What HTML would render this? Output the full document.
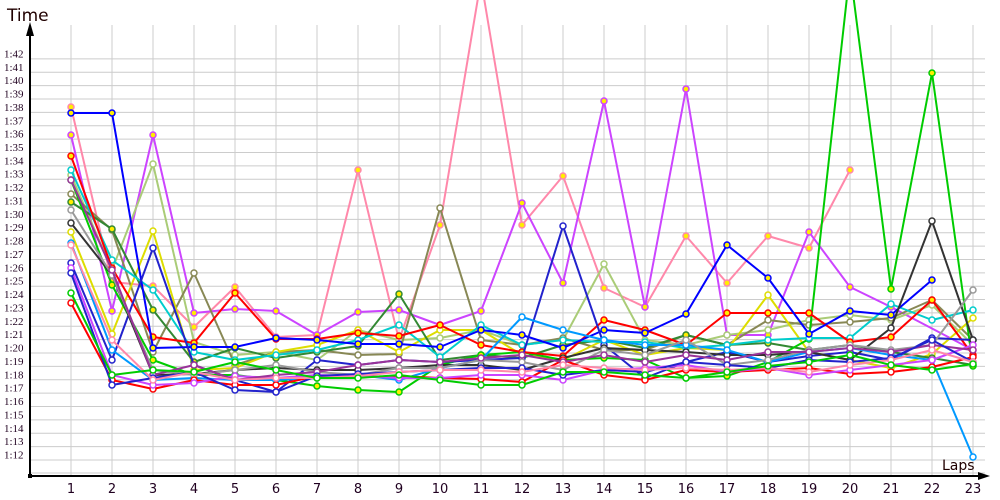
<!DOCTYPE html>
<html><head><meta charset="utf-8"><style>
html,body{margin:0;padding:0;background:#fff;}
svg{display:block;font-family:"Liberation Sans",sans-serif;}
</style></head><body>
<svg id="c" width="1000" height="500" viewBox="0 0 1000 500" xmlns="http://www.w3.org/2000/svg">
<rect width="1000" height="500" fill="#fff"/>
<g stroke="#cccccc" stroke-width="1" id="grid"></g>
<g font-size="11" fill="#200020" font-family="Liberation Serif,serif" id="ylab"></g>
<g font-size="13" fill="#200020" font-family="DejaVu Sans,sans-serif" id="xlab"></g>
<g id="series" fill="none" stroke-width="2" stroke-linejoin="round"></g>
<line x1="30" y1="476" x2="985" y2="476" stroke="#000" stroke-width="2"/>
<line x1="30" y1="476" x2="30" y2="30" stroke="#000" stroke-width="2"/>
<polygon points="30,22 26,36 34,36" fill="#000"/>
<polygon points="990,476 978,472 978,480" fill="#000"/>
<rect x="28" y="474" width="4" height="4" fill="#000"/>
<text x="7" y="21" font-size="17" fill="#200000" font-family="DejaVu Sans,sans-serif">Time</text>
<text x="942" y="470" font-size="14" fill="#200000" font-family="DejaVu Sans,sans-serif">Laps</text>
</svg>
<script>
var NS="http://www.w3.org/2000/svg";
function el(t,a,p){var e=document.createElementNS(NS,t);for(var k in a)e.setAttribute(k,a[k]);p.appendChild(e);return e;}
var g=document.getElementById('grid'),yl=document.getElementById('ylab'),xl=document.getElementById('xlab');
function X(i){return 71+41*(i-1);}
for(var i=1;i<=23;i++){el('line',{x1:X(i),y1:25,x2:X(i),y2:476},g);var t=el('text',{x:X(i),y:493,'text-anchor':'middle'},xl);t.textContent=i;}
for(var s=0;s<=30;s++){var y=460-s*13.37;el('line',{x1:30,y1:y,x2:985,y2:y},g);var t=el('text',{x:4,y:y-1.5},yl);var sec=12+s;t.textContent="1:"+(sec<10?"0"+sec:sec);}
el('line',{x1:30,y1:473,x2:985,y2:473},g);
var S=[
["#ff88aa",1,[107,282,286,327,287,337,335,170,340,225,-20,225,176,288,307,236,283,236,248,170]],
["#cc44ff",1,[135,311,135,313,309,311,335,312,310,325,311,203,283,101,307,89,335,335,232,287,307,null,350]],
["#aacc77",0,[175,270,164,342,355,352,360,330,340,338,330,345,340,264,340,345,335,330,320,315,320,305,345]],
["#888855",0,[194,230,352,273,365,352,350,355,354,208,340,345,338,350,350,335,345,320,325,322,318,300,340]],
["#dddd00",0,[232,334,231,370,368,352,345,330,352,330,330,355,360,340,355,348,350,295,352,360,368,354,318]],
["#338833",1,[202,229,310,362,348,358,352,346,294,360,355,358,345,340,348,335,345,343,350,345,352,358,365]],
["#00cc00",1,[180,285,360,375,375,380,386,390,392,365,355,352,360,358,360,378,376,362,339,-30,289,73,366]],
["#00cccc",0,[170,260,290,352,360,355,350,340,325,357,325,345,340,342,342,348,345,340,338,338,304,320,310]],
["#ff0000",1,[156,268,337,343,293,339,339,333,336,325,345,352,356,320,330,345,313,313,313,342,337,300,355]],
["#0000ff",1,[113,113,348,347,347,338,340,344,344,347,330,335,348,330,333,314,245,278,334,311,315,280,null]],
["#2222cc",0,[263,360,248,365,380,392,360,365,360,362,360,358,226,345,378,362,352,362,356,352,360,338,340]],
["#333333",0,[223,275,375,374,370,368,370,370,368,365,365,370,358,348,350,352,355,355,352,360,328,221,340]],
["#0099ff",0,[243,350,380,378,380,380,378,375,380,368,360,317,330,340,345,345,350,362,352,348,355,360,457]],
["#999999",0,[210,275,370,375,370,365,372,375,368,368,360,362,370,350,355,340,365,360,350,345,350,345,290]],
["#ff0000",0,[303,380,389,380,385,385,376,377,376,378,379,382,360,375,380,370,372,370,368,374,372,367,357]],
["#cc44ff",0,[268,375,385,383,376,378,375,376,378,378,375,375,380,370,368,365,372,368,375,370,365,360,345]],
["#993399",0,[180,270,375,365,380,375,372,365,360,362,358,355,362,355,362,355,360,352,352,348,352,345,350]],
["#2222cc",0,[273,385,378,372,390,392,376,374,372,370,368,368,375,370,372,362,365,368,360,362,358,340,362]],
["#ff88aa",0,[245,340,380,372,380,378,378,376,372,370,370,372,365,368,370,368,370,368,372,365,360,350,362]],
["#00cc00",0,[293,375,370,372,362,370,378,378,375,380,385,385,372,372,375,378,372,366,362,355,365,370,364]]
];
var sg=document.getElementById('series');
S.forEach(function(s){var pts=[];s[2].forEach(function(y,i){if(y!==null)pts.push([X(i+1),y]);});
el('polyline',{points:pts.map(function(p){return p.join(',')}).join(' '),stroke:s[0]},sg);
pts.forEach(function(p){if(p[1]>10&&p[1]<476)el('circle',{cx:p[0],cy:p[1],r:3,fill:s[1]?'#ffee00':'#fff',stroke:s[0],'stroke-width':1.5},sg);});});
</script>
</body></html>
